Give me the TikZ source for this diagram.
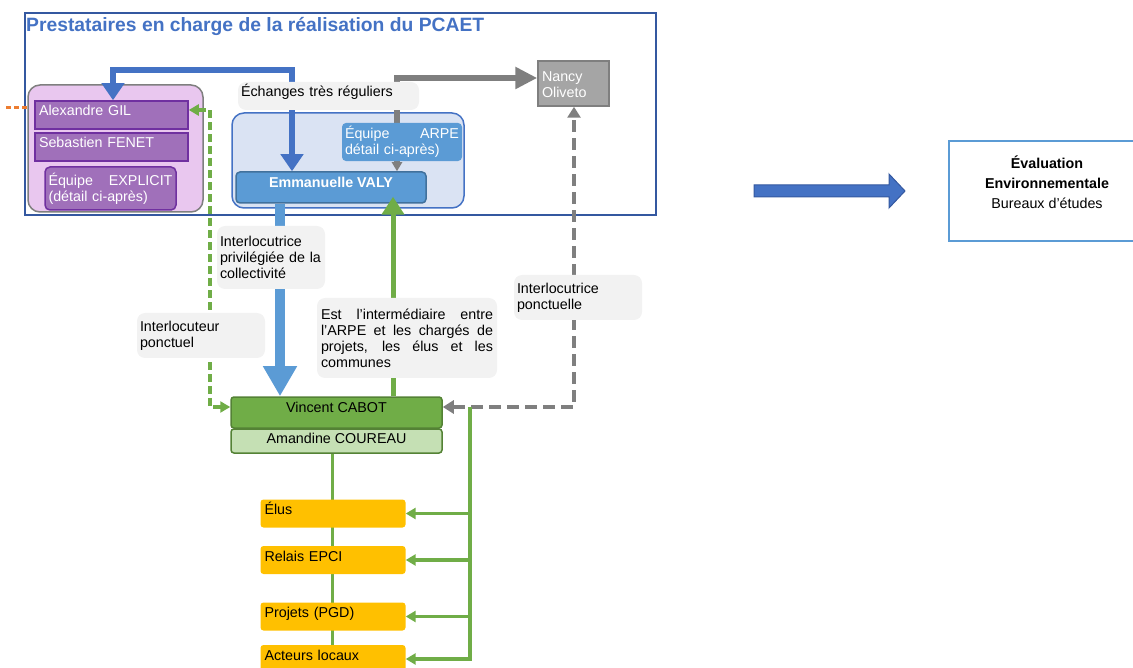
\documentclass[tikz,border=0pt]{standalone}
\usepackage{fontspec}
\setmainfont{Liberation Sans}
\usetikzlibrary{arrows.meta,calc}
\definecolor{cadrebleu}{RGB}{52,88,160}
\definecolor{bleufonce}{RGB}{68,114,196}
\definecolor{bleumoyen}{RGB}{91,155,213}
\definecolor{bleuclair}{RGB}{218,227,243}
\definecolor{bordvaly}{RGB}{65,113,156}
\definecolor{rose}{RGB}{233,199,239}
\definecolor{violet}{RGB}{160,112,186}
\definecolor{violetfonce}{RGB}{112,48,160}
\definecolor{grisfonce}{RGB}{127,127,127}
\definecolor{grisclair}{RGB}{165,165,165}
\definecolor{grisbulle}{RGB}{242,242,242}
\definecolor{vert}{RGB}{112,173,71}
\definecolor{vertfonce}{RGB}{84,130,53}
\definecolor{vertclair}{RGB}{197,224,180}
\definecolor{jaune}{RGB}{255,192,0}
\definecolor{orangepp}{RGB}{237,125,49}

\begin{document}
\begin{tikzpicture}[x=1pt,y=-1pt,font=\fontsize{14.3}{16}\selectfont,
    nom/.style={fill=violet,draw=violetfonce,line width=1.5pt,text=white,text width=145pt,inner xsep=4pt,inner ysep=3pt,text height=12pt,text depth=10pt,align=left},
    bulle/.style={fill=grisbulle,rounded corners=8pt,inner xsep=3pt,align=left},
    jaunebox/.style={fill=jaune,rounded corners=3pt,text width=137pt,inner xsep=4pt,inner ysep=3pt,text height=12pt,text depth=10pt,align=left},
    personne/.style={draw=vertfonce,line width=1.5pt,rounded corners=3pt,minimum width=211pt,inner ysep=3pt,align=center}]
  \useasboundingbox (0,0) rectangle (1133,668);
  \draw[cadrebleu,line width=2pt] (25,13) rectangle (656,215);
  \node[anchor=base west,inner sep=0pt,text=bleufonce,font=\fontsize{19.3}{22}\selectfont\bfseries] (titre) at (26,32) {Prestataires en charge de la réalisation du PCAET};

  \node[fill=rose,draw=grisfonce,line width=1.5pt,rounded corners=12pt,minimum width=175pt,minimum height=127pt] (explicit) at (115.5,148.5) {};
  \node[fill=bleuclair,draw=bleufonce,line width=1.5pt,rounded corners=12pt,minimum width=232pt,minimum height=95pt] (arpe) at (348,160.5) {};

  \node[nom] (gil) at (111.5,115) {Alexandre GIL};
  \node[nom] (fenet) at (111.5,147) {Sebastien FENET};
  \node[fill=violet,draw=violetfonce,line width=1.5pt,rounded corners=5pt,text=white,text width=124pt,inner xsep=3.5pt,minimum height=43pt,align=left] (eqexplicit) at (110.5,188.5) {Équipe\hfill EXPLICIT\\(détail ci-après)};
  \node[fill=bleumoyen,draw=bordvaly,line width=1.5pt,rounded corners=4pt,text=white,font=\fontsize{14.3}{16}\selectfont\bfseries,minimum width=190pt,inner ysep=3pt,text height=13pt,text depth=12pt] (valy) at (331,187.5) {Emmanuelle VALY};
  \node[fill=grisclair,draw=grisfonce,line width=1.5pt,text=white,text width=63pt,inner xsep=4pt,inner ysep=3pt,minimum height=45pt,text depth=13pt,align=left] (nancy) at (573.5,83.5) {Nancy\\Oliveto};
  \node[personne,fill=vert,text height=13pt,text depth=12pt] (cabot) at (336.5,412.5) {Vincent CABOT};
  \node[personne,fill=vertclair,text height=11pt,text depth=7pt] (coureau) at (336.5,441) {Amandine COUREAU};

  \coordinate (ol) at (6,108);
  \draw[orangepp,line width=3pt,dash pattern=on 5pt off 3pt] (ol) -- (explicit.west |- ol);
  \coordinate (bl) at (113,70);
  \coordinate (br) at (292,70);
  \draw[bleufonce,line width=6pt,{Triangle[width=22pt,length=17pt]}-{Triangle[width=22pt,length=17pt]}] (gil.north -| bl) -- (bl) -- (br) -- (valy.north -| br);
  \coordinate (gc) at (397,78);
  \draw[grisfonce,line width=6.5pt,{Triangle[width=10pt,length=9pt]}-{Triangle[width=21pt,length=22pt]}] (valy.north -| gc) -- (gc) -- (nancy.west |- gc);

  \node[fill=bleumoyen,rounded corners=4pt,text=white,text width=114pt,inner xsep=3pt,minimum height=38pt,align=left] (eqarpe) at (402,142) {Équipe\hfill ARPE\\détail ci-après)};
  \node[bulle,text width=175pt,inner ysep=3pt,text height=12pt,text depth=10pt] (echanges) at (328.5,96) {Échanges très réguliers};

  \coordinate (gl) at (210,110);
  \coordinate (gl2) at (210,407);
  \draw[vert,line width=3.5pt,dash pattern=on 8pt off 4pt,{Triangle[width=11pt,length=10pt]}-{Triangle[width=11pt,length=10pt]}] (gil.east |- gl) -- (gl) -- (gl2) -- (cabot.west |- gl2);
  \coordinate (gd) at (574,407);
  \draw[grisfonce,line width=4.5pt,dash pattern=on 12pt off 6pt,{Triangle[width=13pt,length=11pt]}-{Triangle[width=13pt,length=11pt]}] (cabot.east |- gd) -- (gd) -- (nancy.south -| gd);
  \coordinate (bx) at (280,0);
  \draw[bleumoyen,line width=10pt,-{Triangle[width=32pt,length=30pt]}] (valy.south -| bx) -- (cabot.north -| bx);
  \coordinate (vx) at (393,0);
  \draw[vert,line width=5pt,-{Triangle[width=22pt,length=18pt]},shorten >=-7pt] (cabot.north -| vx) -- (valy.south -| vx);

  \node[bulle,text width=102pt,minimum height=63pt] (privil) at (271,257.5) {Interlocutrice\\privilégiée de la\\collectivité};
  \node[bulle,text width=122pt,minimum height=45pt] (ponctuel) at (201,335.5) {Interlocuteur\\ponctuel};
  \node[bulle,text width=122pt,minimum height=45pt] (ponctuelle) at (578,297.5) {Interlocutrice\\ponctuelle};
  \node[bulle,text width=172pt,minimum height=80pt,align=justify,inner xsep=4pt] (intermed) at (407,338) {Est l’intermédiaire entre\linebreak l’ARPE et les chargés de\linebreak projets, les élus et les\linebreak communes};

  \coordinate (bas) at (332,665);
  \draw[vert,line width=3pt] (bas |- coureau.south) -- (bas);
  \node[jaunebox] (elus) at (333,513.5) {Élus};
  \node[jaunebox] (relais) at (333,560) {Relais EPCI};
  \node[jaunebox] (projets) at (333,616.5) {Projets (PGD)};
  \node[jaunebox] (acteurs) at (333,659) {Acteurs locaux};
  \coordinate (t0) at (470,407);
  \draw[vert,line width=3.5pt,-{Triangle[width=11pt,length=10pt]}] (t0) -- (t0 |- acteurs) -- (acteurs.east);
  \foreach \n in {elus,relais,projets}
    \draw[vert,line width=3.5pt,-{Triangle[width=11pt,length=10pt]}] (t0 |- \n) -- (\n.east);

  \draw[draw=cadrebleu,fill=bleufonce,line width=1pt] (754,185) -- (889,185) -- (889,174) -- (905,191) -- (889,208) -- (889,197) -- (754,197) -- cycle;
  \node[draw=bleumoyen,line width=2pt,minimum width=196pt,minimum height=100pt] (eval) at (1047,191) {};
  \node[align=center,font=\fontsize{14.3}{20}\selectfont] (evaltxt) at ($(eval.center)+(0,-9)$) {\textbf{Évaluation}\\\textbf{Environnementale}\\Bureaux d’études};
\end{tikzpicture}
\end{document}
